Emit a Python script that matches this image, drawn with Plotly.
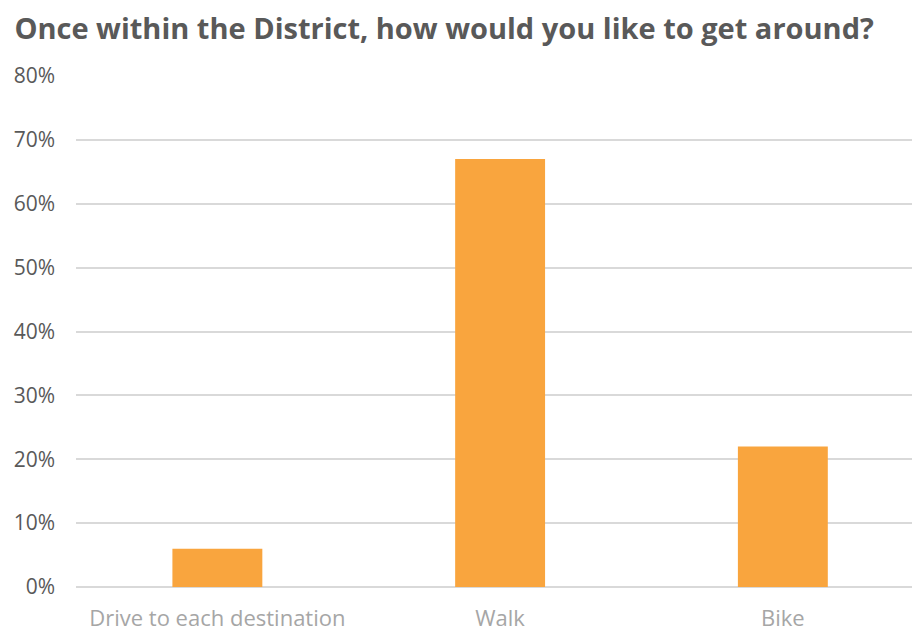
import plotly.graph_objects as go

categories = ["Drive to each destination", "Walk", "Bike"]
values = [0.06, 0.67, 0.22]
tick_vals = [0, 0.1, 0.2, 0.3, 0.4, 0.5, 0.6, 0.7, 0.8]
tick_text = ["0%", "10%", "20%", "30%", "40%", "50%", "60%", "70%", "80%"]

fig = go.Figure(go.Bar(x=categories, y=values, marker_color="#F9A53E",
                       marker_line_width=0, width=0.318))

fig.update_layout(
    width=912, height=623,
    paper_bgcolor="white", plot_bgcolor="white",
    margin=dict(l=68, r=2, t=68, b=44, autoexpand=False),
    title=dict(text="<b>Once within the District, how would you like to get around?</b>",
               x=0.007, xanchor="left", y=0.966, yanchor="middle",
               font=dict(family="Open Sans", size=29, color="#595959")),
    showlegend=False,
    font=dict(family="Open Sans"),
)
fig.update_yaxes(range=[0, 0.8], tickvals=tick_vals, ticktext=tick_text,
                 gridcolor="#D9D9D9", gridwidth=1.5, zeroline=True,
                 zerolinecolor="#D9D9D9", zerolinewidth=1.5, automargin=False,
                 tickfont=dict(size=21, color="#595959"), ticks="", ticklabelstandoff=20)
fig.update_xaxes(range=[-0.5, 2.478], tickfont=dict(size=22, color="#A6A6A6"),
                 showline=False, ticks="", automargin=False, ticklabelstandoff=16)

fig.write_html("out.html")
